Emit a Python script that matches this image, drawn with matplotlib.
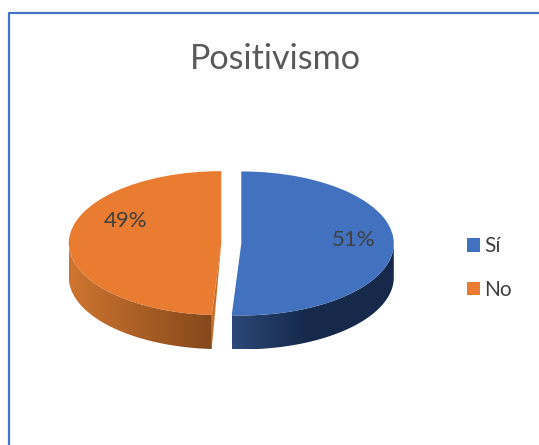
import numpy as np
import matplotlib
matplotlib.use("Agg")
import matplotlib.pyplot as plt
from matplotlib.colors import to_rgb
from matplotlib.patches import Polygon

categorias = ["Sí", "No"]
valores = [51, 49]
colores = ["#4271BF", "#E97C30"]
# color of the side wall, left end and right end
lados = [("#2B4877", "#16294B"), ("#CE7530", "#84481B")]

W, H = 539, 445
cx, cy = 231.3, 243.3   # centre of the pie in pixels
rx, ry = 152.5, 72.0
gap = 10 / rx
depth = 34 / ry

plt.rcParams['font.family'] = ['Lato', 'DejaVu Sans']

fig = plt.figure(figsize=(W / 100, H / 100), dpi=100)
ax = fig.add_axes([0, 0, 1, 1])


def px(x, y):
    return (x - cx) / rx, (cy - y) / ry


wedges, _, autotexts = ax.pie(valores, colors=colores, startangle=90, counterclock=False,
                              explode=[gap, gap], autopct='%.0f%%', radius=1,
                              textprops={'fontsize': 16, 'color': '#404040'})
for w in wedges:
    w.set_zorder(5)

autotexts[0].set_position(px(354, 240))
autotexts[1].set_position(px(126, 221))
for t in autotexts:
    t.set_zorder(10)

# side walls, worked out from the shares
fracc = np.cumsum([0] + valores) / sum(valores) * 2 * np.pi
for i in range(len(valores)):
    a0, a1 = fracc[i], fracc[i + 1]
    mid = (a0 + a1) / 2
    dx = gap * np.sin(mid)
    dy = gap * np.cos(mid)
    # cut face
    if i == 1:
        xr, yr = dx + np.sin(a0), dy + np.cos(a0)
        ax.add_patch(Polygon([(dx, dy), (xr, yr), (xr, yr - depth)],
                             closed=True, fc="#C8702C", ec="none", zorder=2))
    lo, hi = max(a0, np.pi / 2), min(a1, 3 * np.pi / 2)
    t = np.linspace(lo, hi, 120)
    xs = dx + np.sin(t)
    ys = dy + np.cos(t)
    x_min, x_max = xs.min(), xs.max()
    # gradient as an image clipped to the wall shape
    f = np.linspace(0, 1, 256)
    if i == 0:
        f = np.minimum(f * 2.2, 1)   # blue gets dark fast
    c_izq, c_der = np.array(to_rgb(lados[i][0])), np.array(to_rgb(lados[i][1]))
    img = (c_izq + (c_der - c_izq) * f[:, None])[None, :, :]
    im = ax.imshow(img, extent=(x_min, x_max, ys.min() - depth, ys.max()), aspect='auto',
                   zorder=3, interpolation='bilinear')
    pared = Polygon(np.vstack([np.column_stack([xs, ys]),
                               np.column_stack([xs[::-1], ys[::-1] - depth])]),
                    closed=True, transform=ax.transData, fc="none", ec="none")
    ax.add_patch(pared)
    im.set_clip_path(pared)

ax.set_aspect('auto')
ax.set_xlim(px(0, 0)[0], px(W, 0)[0])
ax.set_ylim(px(0, H)[1], px(0, 0)[1])
ax.axis('off')

ax.plot([8.5 / W, 8.5 / W, 1], [0, 1 - 12.5 / H, 1 - 12.5 / H], color="#4472C4", lw=1.6,
        transform=ax.transAxes, clip_on=False, zorder=1)

fig.text(275 / W, 1 - 59 / H, "Positivismo", fontsize=24.6, color="#595959", ha='center', va='center')

fig.legend(wedges, categorias, loc='center left', bbox_to_anchor=(463 / W, 1 - 268 / H), frameon=False,
           fontsize=15, labelcolor="#404040", handlelength=0.63, handleheight=0.63,
           handletextpad=0.2, labelspacing=1.12, borderpad=0.2, borderaxespad=0)

plt.savefig("out.png", dpi=100)
